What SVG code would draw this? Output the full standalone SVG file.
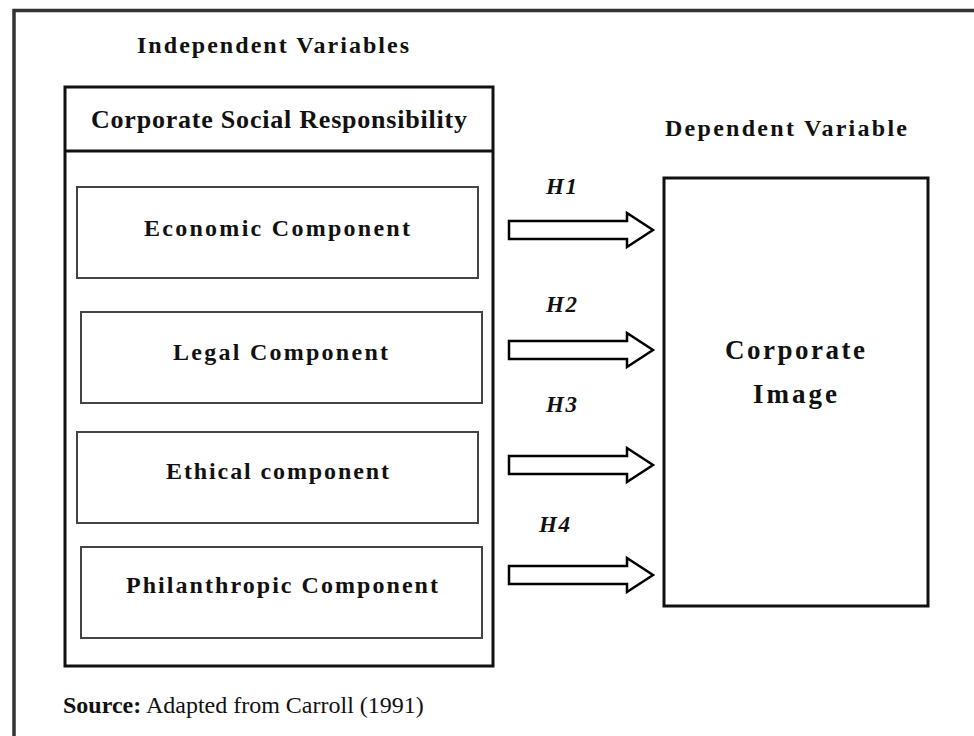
<svg xmlns="http://www.w3.org/2000/svg" width="974" height="736" viewBox="0 0 974 736">
<style>
.lbl{font-family:"Liberation Serif","Times New Roman",serif;font-weight:bold;fill:#111}
.hyp{font-family:"Liberation Serif","Times New Roman",serif;font-weight:bold;font-style:italic;fill:#111;font-size:23px}
.comp{fill:#fff;stroke:#444;stroke-width:2}
.arrow{fill:#fff;stroke:#000;stroke-width:2.5;stroke-linejoin:miter}
</style>
<defs>
<path id="arr" d="M509,-9 L627,-9 L627,-17 L653,0 L627,17 L627,9 L509,9 Z"/>
</defs>
<rect x="0" y="0" width="974" height="736" fill="#fff"/>
<rect id="frame" x="14" y="10.5" width="1000" height="800" fill="none" stroke="#333" stroke-width="3.5"/>
<text class="lbl" x="137" y="53" font-size="24" textLength="272" lengthAdjust="spacing">Independent Variables</text>
<g id="csr">
<rect x="65" y="87" width="428" height="579" fill="#fff" stroke="#111" stroke-width="3"/>
<line x1="65" y1="151" x2="493" y2="151" stroke="#111" stroke-width="3"/>
<text class="lbl" x="91" y="128" font-size="26" textLength="376" lengthAdjust="spacing">Corporate Social Responsibility</text>
</g>
<g id="economic">
<rect class="comp" x="77" y="187" width="401" height="91"/>
<text class="lbl" x="144" y="236" font-size="24" textLength="266" lengthAdjust="spacing">Economic Component</text>
</g>
<g id="legal">
<rect class="comp" x="81" y="312" width="401" height="91"/>
<text class="lbl" x="173" y="360" font-size="24" textLength="215" lengthAdjust="spacing">Legal Component</text>
</g>
<g id="ethical">
<rect class="comp" x="77" y="432" width="401" height="91"/>
<text class="lbl" x="166" y="479" font-size="24" textLength="223" lengthAdjust="spacing">Ethical component</text>
</g>
<g id="philanthropic">
<rect class="comp" x="81" y="547" width="401" height="91"/>
<text class="lbl" x="126" y="593" font-size="24" textLength="312" lengthAdjust="spacing">Philanthropic Component</text>
</g>
<text class="lbl" x="665" y="136" font-size="24" textLength="242" lengthAdjust="spacing">Dependent Variable</text>
<g id="corporate-image">
<rect x="664" y="178" width="264" height="428" fill="#fff" stroke="#111" stroke-width="3"/>
<text class="lbl" x="725" y="359" font-size="27" textLength="140" lengthAdjust="spacing">Corporate</text>
<text class="lbl" x="753" y="403" font-size="27" textLength="84" lengthAdjust="spacing">Image</text>
</g>
<g id="connectors">
<use href="#arr" class="arrow" transform="translate(0,230)"/>
<use href="#arr" class="arrow" transform="translate(0,350)"/>
<use href="#arr" class="arrow" transform="translate(0,465)"/>
<use href="#arr" class="arrow" transform="translate(0,575)"/>
<text class="hyp" x="546" y="194" textLength="31" lengthAdjust="spacing">H1</text>
<text class="hyp" x="546" y="312" textLength="31" lengthAdjust="spacing">H2</text>
<text class="hyp" x="546" y="412" textLength="31" lengthAdjust="spacing">H3</text>
<text class="hyp" x="539" y="532" textLength="31" lengthAdjust="spacing">H4</text>
</g>
<text x="63" y="713" font-family="'Liberation Serif','Times New Roman',serif" font-size="24" fill="#111"><tspan font-weight="bold">Source:</tspan> Adapted from Carroll (1991)</text>
</svg>
